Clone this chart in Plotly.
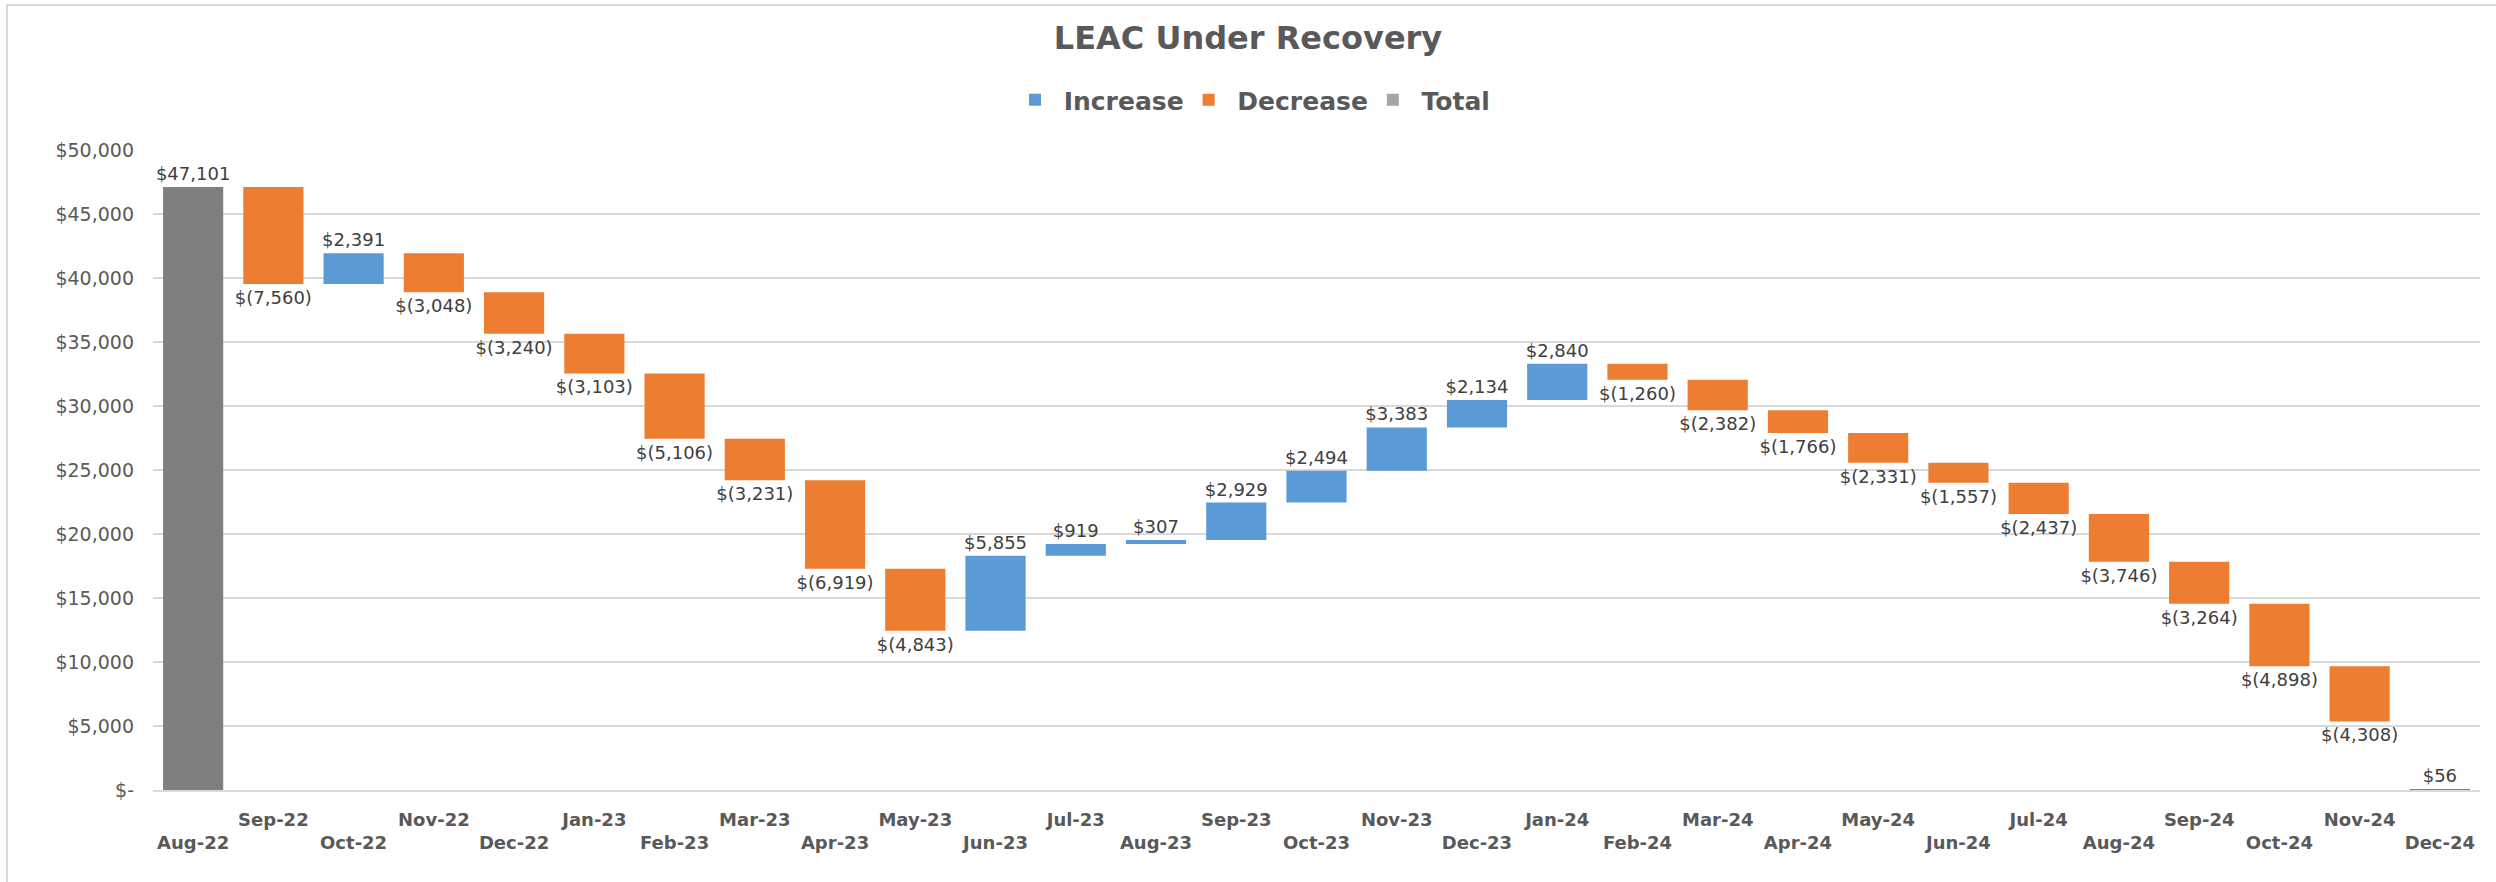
import plotly.graph_objects as go

categories = ["Aug-22", "Sep-22", "Oct-22", "Nov-22", "Dec-22", "Jan-23", "Feb-23", "Mar-23",
              "Apr-23", "May-23", "Jun-23", "Jul-23", "Aug-23", "Sep-23", "Oct-23", "Nov-23",
              "Dec-23", "Jan-24", "Feb-24", "Mar-24", "Apr-24", "May-24", "Jun-24", "Jul-24",
              "Aug-24", "Sep-24", "Oct-24", "Nov-24", "Dec-24"]
values = [47101, -7560, 2391, -3048, -3240, -3103, -5106, -3231, -6919, -4843, 5855, 919, 307,
          2929, 2494, 3383, 2134, 2840, -1260, -2382, -1766, -2331, -1557, -2437, -3746, -3264,
          -4898, -4308, 56]
measures = ["absolute"] + ["relative"] * 27 + ["absolute"]
y_tick_values = [0, 5000, 10000, 15000, 20000, 25000, 30000, 35000, 40000, 45000, 50000]
y_tick_labels = ["$-", "$5,000", "$10,000", "$15,000", "$20,000", "$25,000", "$30,000",
                 "$35,000", "$40,000", "$45,000", "$50,000"]
legend_names = ["Increase", "Decrease", "Total"]
legend_colors = ["#5B9BD5", "#ED7D31", "#A5A5A5"]

FONT = "DejaVu Sans"


def fmt(v):
    return f"${v:,}" if v >= 0 else f"$({-v:,})"


labels = [fmt(v) for v in values]
tick_text = [c if i % 2 else " <br>" + c for i, c in enumerate(categories)]

fig = go.Figure()
fig.add_trace(go.Waterfall(
    x=categories, y=values, measure=measures,
    text=labels, textposition="outside", texttemplate="%{text}",
    textfont=dict(family=FONT, size=18, color="#404040"),
    constraintext="none", cliponaxis=False,
    increasing=dict(marker=dict(color="#5B9BD5", line=dict(width=0))),
    decreasing=dict(marker=dict(color="#ED7D31", line=dict(width=0))),
    totals=dict(marker=dict(color="#7F7F7F", line=dict(width=0))),
    connector=dict(visible=False),
    showlegend=False, hoverinfo="skip",
))
for name, col in zip(legend_names, legend_colors):
    fig.add_trace(go.Scatter(
        x=[None], y=[None], mode="markers", name=" " + name,
        marker=dict(symbol="square", size=17, color=col),
    ))

L, R, T, B = 153, 2480, 150, 790
W, H = 2496, 882
pw, ph = R - L, B - T


def px_x(p):
    return (p - L) / pw


def px_y(p):
    return (B - p) / ph


fig.update_layout(
    width=W, height=H,
    margin=dict(l=L, r=W - R, t=T, b=H - B, pad=0),
    paper_bgcolor="white", plot_bgcolor="white",
    waterfallgap=0.25,
    title=dict(text="LEAC Under Recovery", x=0.5, xref="container", xanchor="center",
               y=1 - 38 / H, yref="container", yanchor="middle",
               font=dict(family=FONT, size=32, color="#595959", weight="bold")),
    legend=dict(orientation="h", x=px_x(1255), xanchor="center", y=px_y(100), yanchor="middle",
                font=dict(family=FONT, size=25, color="#595959", weight="bold"),
                itemsizing="constant", bgcolor="rgba(0,0,0,0)"),
    xaxis=dict(type="category", tickmode="array", tickvals=categories, ticktext=tick_text,
               tickangle=0, showgrid=False, showline=True, linecolor="#D9D9D9", linewidth=2,
               ticks="", ticklabelstandoff=12,
               tickfont=dict(family=FONT, size=18, color="#595959", weight="bold")),
    yaxis=dict(range=[0, 50000], tickmode="array", tickvals=y_tick_values, ticktext=y_tick_labels,
               showgrid=True, gridcolor="#D9D9D9", gridwidth=2, zeroline=False, showline=False,
               ticks="", ticklabelstandoff=18,
               tickfont=dict(family=FONT, size=19, color="#595959")),
    shapes=[dict(type="rect", xref="paper", yref="paper",
                 x0=px_x(7), x1=px_x(2510), y0=px_y(900), y1=px_y(5),
                 line=dict(color="#D9D9D9", width=2), fillcolor="rgba(0,0,0,0)", layer="below")],
)

fig.write_html("out.html", config={"displayModeBar": False},
               post_script="document.body.style.margin='0';document.body.style.overflow='hidden';")
